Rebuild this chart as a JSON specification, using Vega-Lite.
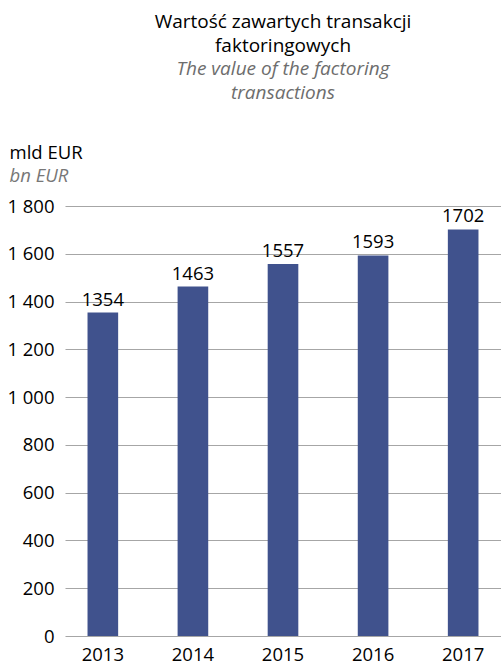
{
  "$schema": "https://vega.github.io/schema/vega-lite/v6.json",
  "width": 436,
  "height": 430,
  "autosize": {"type": "none"},
  "padding": {"left": 65, "top": 206, "right": 0, "bottom": 26},
  "config": {"view": {"stroke": null}, "font": "Open Sans"},
  "title": {
    "text": ["Wartość zawartych transakcji", "faktoringowych"],
    "subtitle": ["The value of the factoring", "transactions"],
    "fontSize": 19,
    "fontWeight": "normal",
    "color": "#000000",
    "lineHeight": 24,
    "subtitleFontSize": 19,
    "subtitleFontStyle": "italic",
    "subtitleColor": "#6d6d6d",
    "subtitleLineHeight": 24,
    "subtitlePadding": 4,
    "anchor": "middle",
    "frame": "group",
    "offset": 40
  },
  "data": {
    "values": [
      {"year": "2013", "value": 1354},
      {"year": "2014", "value": 1463},
      {"year": "2015", "value": 1557},
      {"year": "2016", "value": 1593},
      {"year": "2017", "value": 1702}
    ]
  },
  "layer": [
    {
      "mark": {"type": "bar", "color": "#40528d"},
      "encoding": {
        "x": {
          "field": "year",
          "type": "ordinal",
          "scale": {"paddingInner": 0.66, "paddingOuter": 0.25},
          "axis": {
            "title": null,
            "labelAngle": 0,
            "labelFontSize": 18.5,
            "labelColor": "#000000",
            "labelPadding": 9,
            "ticks": false,
            "domain": false
          }
        },
        "y": {
          "field": "value",
          "type": "quantitative",
          "scale": {"domain": [0, 1800]},
          "axis": {
            "values": [0, 200, 400, 600, 800, 1000, 1200, 1400, 1600, 1800],
            "labelExpr": "replace(format(datum.value, ',d'), ',', ' ')",
            "labelFontSize": 18.5,
            "labelColor": "#000000",
            "labelPadding": 11,
            "ticks": false,
            "domain": false,
            "gridColor": "#a6a6a6",
            "gridWidth": 1.2,
            "title": "mld EUR",
            "titleAngle": 0,
            "titleAlign": "left",
            "titleBaseline": "alphabetic",
            "titleX": -56,
            "titleY": -48,
            "titleFontSize": 18.5,
            "titleFontWeight": "normal",
            "titleColor": "#000000"
          }
        }
      }
    },
    {
      "mark": {"type": "text", "dy": -7, "baseline": "alphabetic", "fontSize": 18.5, "color": "#000000"},
      "encoding": {
        "x": {"field": "year", "type": "ordinal"},
        "y": {
          "field": "value",
          "type": "quantitative",
          "axis": {
            "orient": "right",
            "labels": false,
            "ticks": false,
            "domain": false,
            "grid": false,
            "title": "bn EUR",
            "titleAngle": 0,
            "titleAlign": "left",
            "titleBaseline": "alphabetic",
            "titleX": -492,
            "titleY": -25,
            "titleFontSize": 18.5,
            "titleFontWeight": "normal",
            "titleFontStyle": "italic",
            "titleColor": "#777777"
          }
        },
        "text": {"field": "value", "type": "quantitative", "format": "d"}
      }
    }
  ],
  "resolve": {"axis": {"y": "independent"}}
}
